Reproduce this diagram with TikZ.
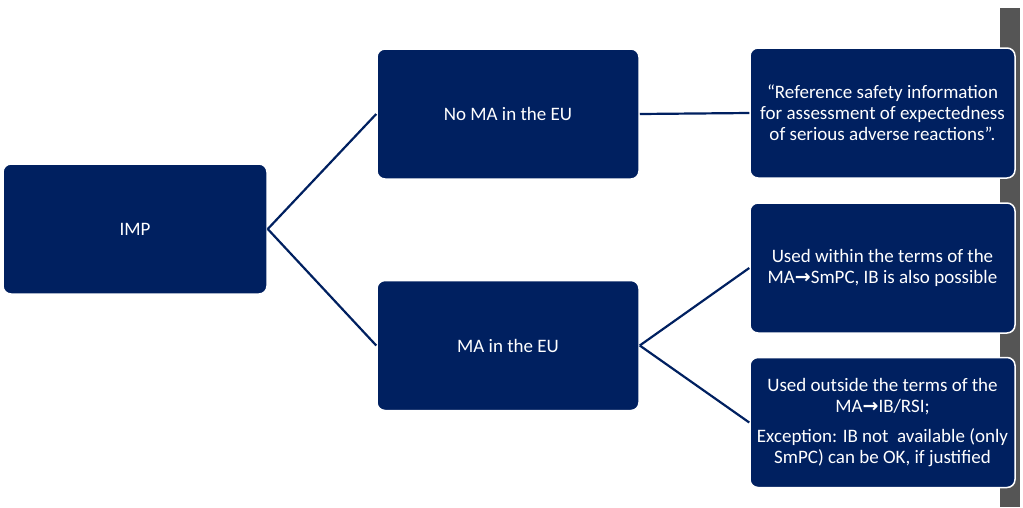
\documentclass[tikz,border=0pt]{standalone}
\usepackage{fontspec}
\setmainfont{Carlito}
\newfontfamily\arrfont{DejaVu Sans}
\definecolor{navy}{HTML}{002060}
\definecolor{stripgrey}{HTML}{555555}
\newcommand{\rarr}{{\arrfont\bfseries →}}
\begin{document}
\begin{tikzpicture}[x=1pt,y=-1pt,
  box/.style={draw=white, line width=1.5pt, fill=navy, rounded corners=8pt,
    text=white, font=\fontsize{19}{21}\selectfont, align=center,
    minimum width=264pt, minimum height=130pt, inner sep=0pt},
  link/.style={draw=navy, line width=2.2pt}]
\useasboundingbox (0,0) rectangle (1023,507);
\fill[stripgrey] (1000,8) rectangle (1020,507);
\node[box] (imp) at (135,229) {IMP};
\node[box, minimum width=262pt] (noma) at (508,114) {No MA in the EU};
\node[box, minimum width=262pt] (ma) at (508,345.5) {MA in the EU};
\node[box, minimum width=265pt] (rsi) at (882.5,113) {“Reference safety information\\for assessment of expectedness\\of serious adverse reactions”.};
\node[box, minimum width=265pt] (within) at (882.5,268) {Used within the terms of the\\MA\rarr SmPC, IB is also possible};
\node[box, minimum width=265pt] (outside) at (882.5,422.5) {Used outside the terms of the\\MA\rarr IB/RSI;\\[9pt]Exception: IB not\ \ available (only\\SmPC) can be OK, if justified};
\draw[link] (imp.east) -- (noma.west);
\draw[link] (imp.east) -- (ma.west);
\draw[link] (noma.east) -- (rsi.west);
\draw[link] (ma.east) -- (within.west);
\draw[link] (ma.east) -- (outside.west);
\end{tikzpicture}
\end{document}
